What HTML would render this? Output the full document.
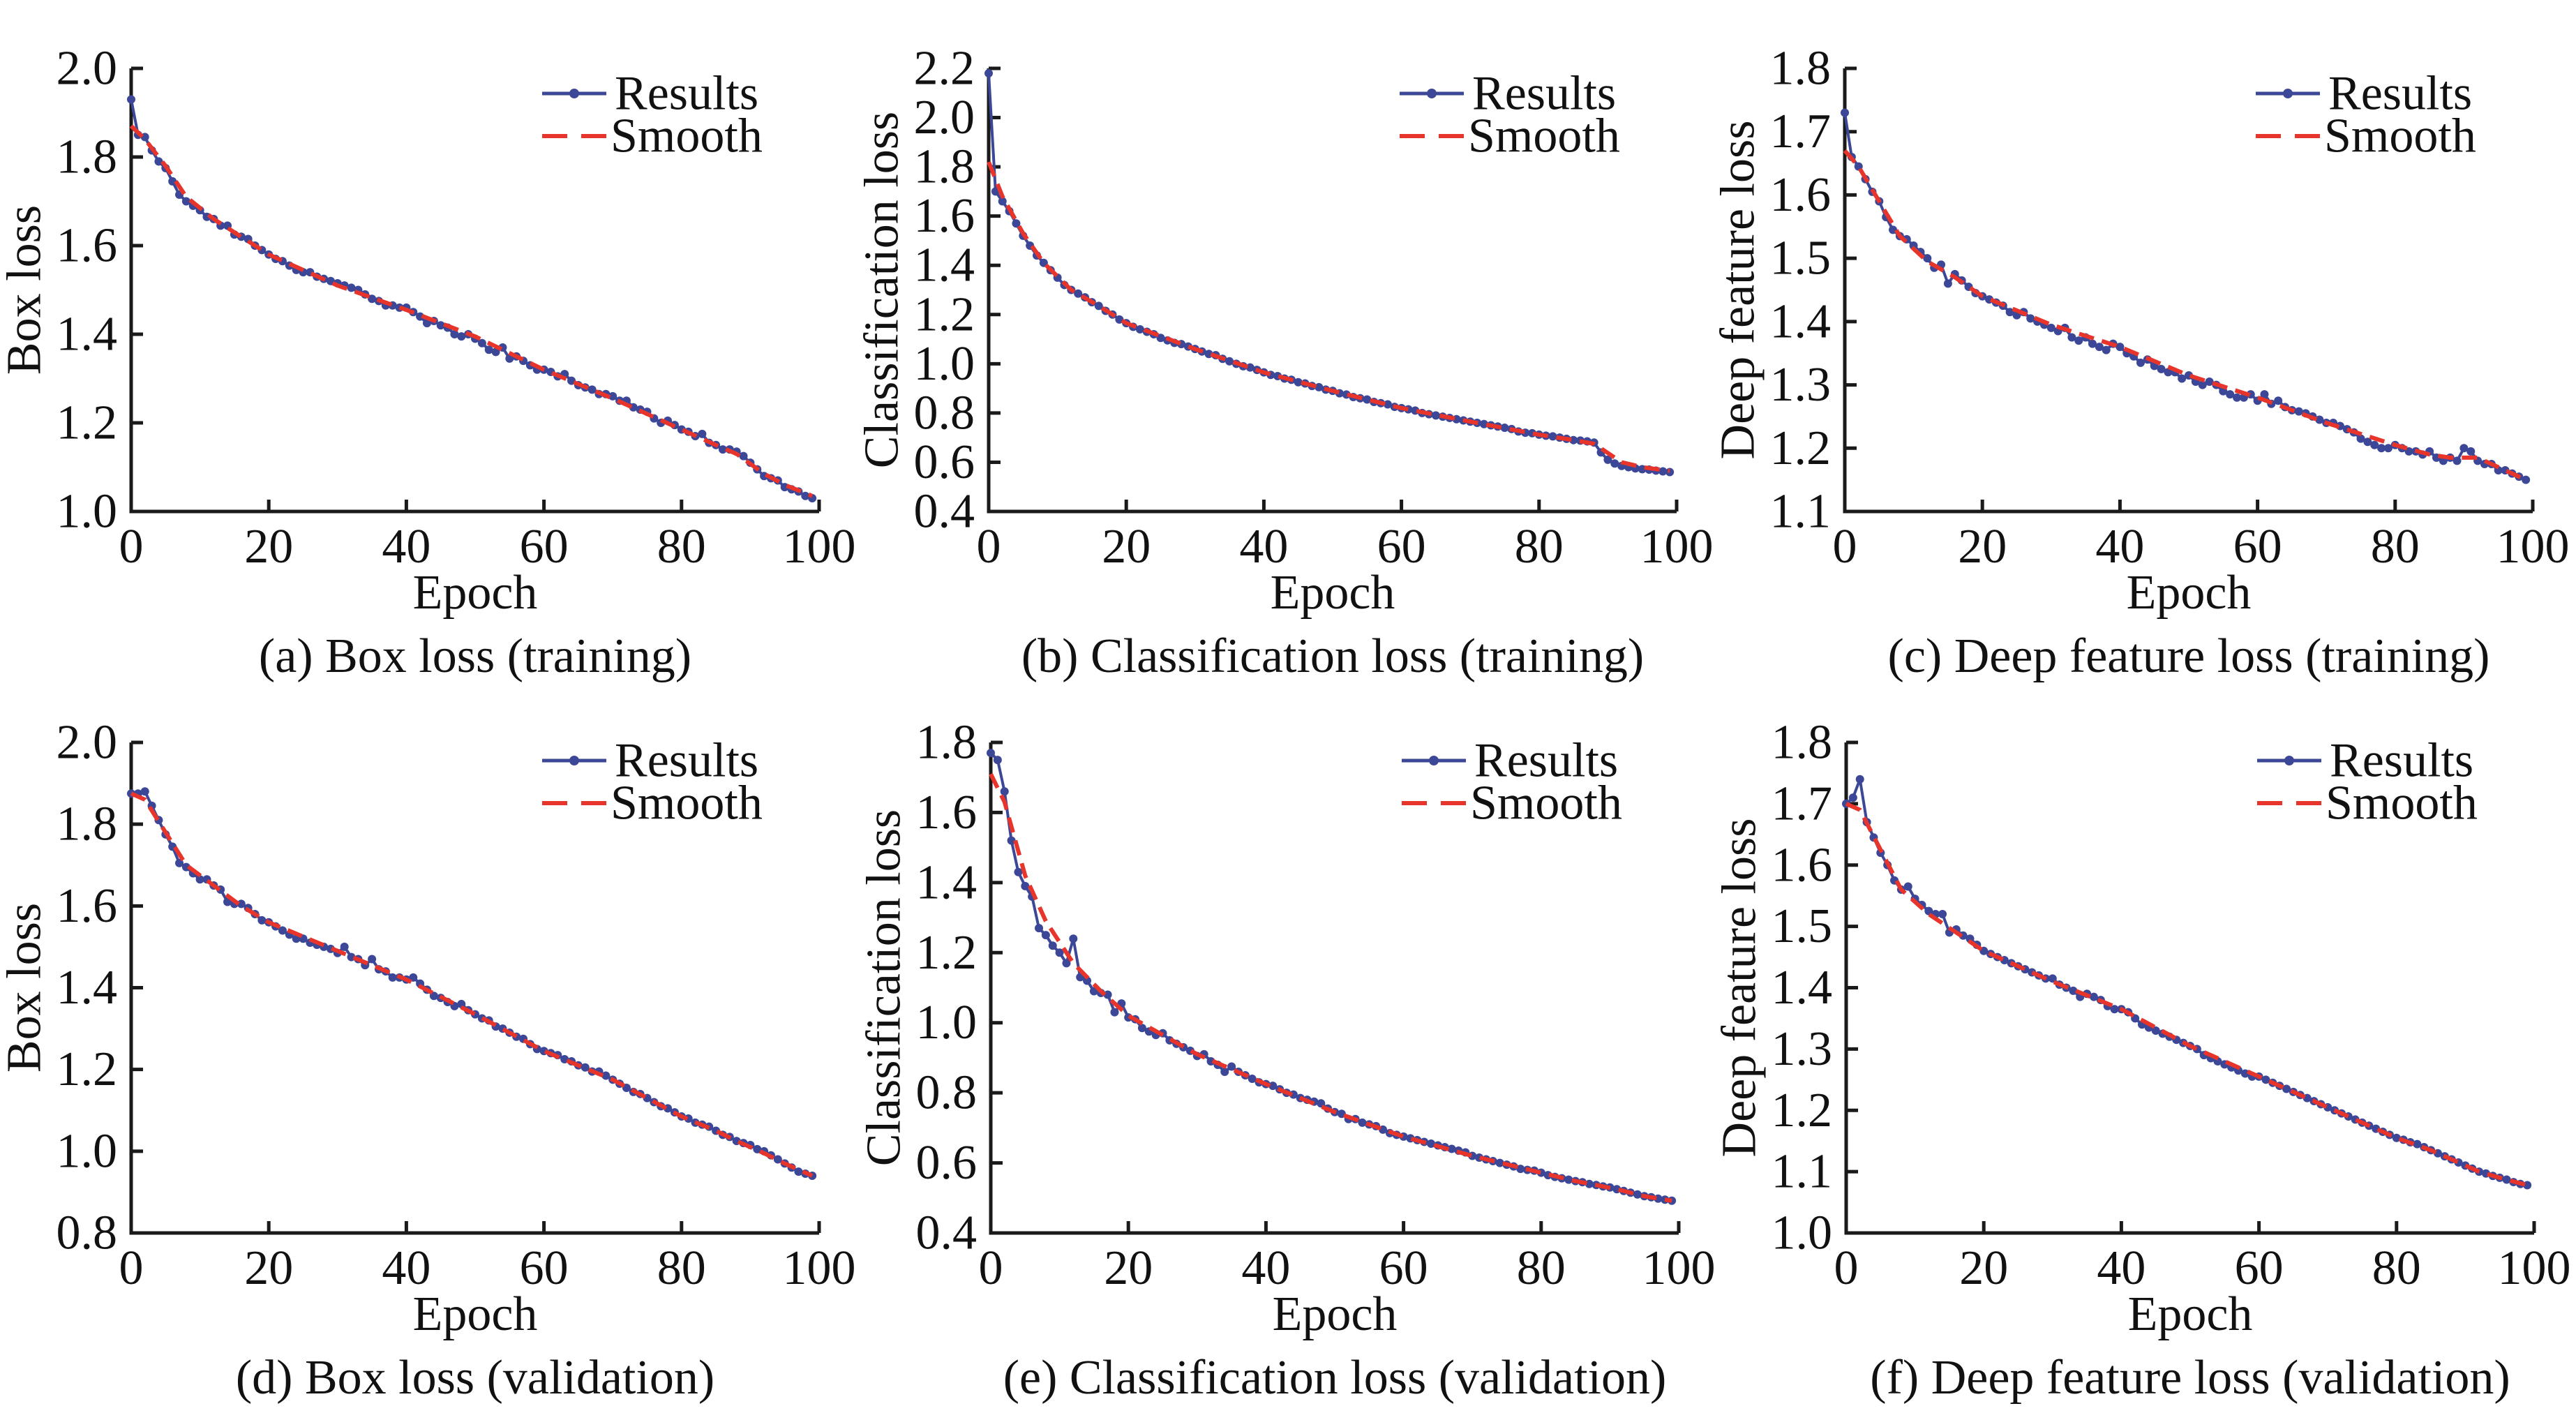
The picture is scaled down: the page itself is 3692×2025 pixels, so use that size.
<!DOCTYPE html>
<html><head><meta charset="utf-8"><style>
html,body{margin:0;padding:0;background:#fff;}
svg{display:block;font-family:"Liberation Serif",serif;}
</style></head><body>
<svg id="fig" width="3692" height="2025" viewBox="0 0 3692 2025" xmlns="http://www.w3.org/2000/svg"></svg>
<script>
const epochs = Array.from({length:100},(_,i)=>i);
const xTicks = [0,20,40,60,80,100];
const smoothEpochs = [0,2,5,8,12,16,20,30,40,50,60,70,80,85,88,92,95,99];

const boxTrain = [1.93,1.85,1.845,1.815,1.79,1.775,1.745,1.715,1.70,1.69,1.68,1.665,1.66,1.645,1.645,1.625,1.62,1.615,1.60,1.59,1.58,1.57,1.565,1.555,1.545,1.54,1.54,1.53,1.525,1.52,1.515,1.51,1.505,1.50,1.49,1.48,1.475,1.465,1.465,1.46,1.46,1.45,1.44,1.425,1.43,1.42,1.415,1.40,1.395,1.40,1.39,1.38,1.365,1.36,1.37,1.345,1.35,1.34,1.33,1.32,1.32,1.315,1.305,1.31,1.295,1.285,1.28,1.275,1.265,1.265,1.26,1.25,1.25,1.235,1.23,1.225,1.21,1.20,1.205,1.195,1.185,1.18,1.17,1.175,1.155,1.15,1.14,1.14,1.135,1.125,1.11,1.095,1.08,1.075,1.07,1.055,1.05,1.045,1.035,1.03];
const boxTrainSmooth = [1.87,1.84,1.78,1.71,1.66,1.62,1.58,1.51,1.455,1.395,1.32,1.255,1.185,1.15,1.13,1.085,1.06,1.035];

const clsTrain = [2.18,1.70,1.66,1.62,1.57,1.52,1.48,1.44,1.41,1.38,1.35,1.32,1.30,1.285,1.27,1.25,1.235,1.215,1.20,1.18,1.165,1.15,1.14,1.13,1.12,1.105,1.095,1.085,1.08,1.07,1.06,1.05,1.04,1.035,1.02,1.01,1.0,0.99,0.985,0.975,0.965,0.955,0.95,0.94,0.935,0.925,0.92,0.91,0.905,0.895,0.89,0.88,0.875,0.865,0.86,0.855,0.845,0.84,0.835,0.825,0.82,0.815,0.81,0.8,0.795,0.79,0.785,0.78,0.775,0.77,0.765,0.76,0.755,0.75,0.745,0.74,0.735,0.725,0.72,0.718,0.712,0.708,0.705,0.7,0.695,0.69,0.688,0.685,0.68,0.64,0.61,0.595,0.585,0.58,0.575,0.572,0.57,0.566,0.563,0.56];
const clsTrainSmooth = [1.82,1.68,1.53,1.41,1.30,1.235,1.165,1.06,0.965,0.89,0.82,0.765,0.712,0.69,0.675,0.60,0.58,0.565];

const dfTrain = [1.73,1.66,1.645,1.625,1.605,1.59,1.565,1.545,1.535,1.53,1.52,1.51,1.5,1.485,1.49,1.46,1.475,1.465,1.455,1.445,1.44,1.435,1.43,1.425,1.415,1.41,1.415,1.405,1.4,1.395,1.39,1.385,1.39,1.375,1.37,1.375,1.365,1.36,1.355,1.365,1.36,1.35,1.345,1.335,1.34,1.33,1.325,1.32,1.32,1.31,1.315,1.305,1.3,1.305,1.3,1.29,1.285,1.28,1.28,1.285,1.275,1.285,1.27,1.275,1.265,1.26,1.258,1.255,1.25,1.245,1.24,1.24,1.235,1.23,1.225,1.215,1.21,1.205,1.2,1.2,1.205,1.2,1.195,1.195,1.19,1.195,1.185,1.18,1.185,1.18,1.2,1.195,1.18,1.175,1.175,1.165,1.165,1.16,1.155,1.15];
const dfTrainSmooth = [1.67,1.645,1.59,1.535,1.495,1.47,1.44,1.395,1.36,1.315,1.28,1.24,1.205,1.19,1.185,1.185,1.17,1.15];

const boxVal = [1.875,1.875,1.88,1.845,1.81,1.775,1.745,1.705,1.695,1.68,1.665,1.665,1.65,1.64,1.61,1.605,1.605,1.595,1.58,1.565,1.56,1.55,1.54,1.53,1.52,1.52,1.51,1.505,1.5,1.495,1.485,1.5,1.475,1.47,1.455,1.47,1.445,1.44,1.425,1.425,1.42,1.425,1.41,1.395,1.38,1.375,1.365,1.355,1.36,1.345,1.335,1.325,1.32,1.305,1.3,1.29,1.28,1.275,1.262,1.25,1.245,1.24,1.235,1.225,1.22,1.21,1.205,1.195,1.195,1.185,1.175,1.165,1.155,1.145,1.14,1.13,1.12,1.11,1.105,1.095,1.085,1.08,1.07,1.065,1.06,1.05,1.04,1.035,1.025,1.02,1.015,1.005,1.0,0.99,0.98,0.97,0.96,0.95,0.945,0.94];
const boxValSmooth = [1.875,1.86,1.78,1.70,1.65,1.60,1.56,1.49,1.42,1.335,1.245,1.175,1.085,1.05,1.025,0.995,0.97,0.94];

const clsVal = [1.77,1.75,1.66,1.52,1.43,1.39,1.36,1.27,1.25,1.22,1.20,1.17,1.24,1.13,1.12,1.09,1.085,1.08,1.03,1.055,1.015,1.01,0.985,0.975,0.965,0.97,0.95,0.94,0.93,0.92,0.905,0.91,0.89,0.88,0.86,0.875,0.86,0.85,0.84,0.83,0.825,0.82,0.81,0.8,0.795,0.785,0.78,0.775,0.77,0.755,0.745,0.74,0.725,0.725,0.715,0.71,0.705,0.695,0.685,0.68,0.675,0.67,0.665,0.66,0.655,0.65,0.645,0.64,0.635,0.63,0.62,0.615,0.61,0.605,0.6,0.595,0.59,0.583,0.58,0.578,0.572,0.565,0.56,0.556,0.552,0.548,0.545,0.54,0.537,0.533,0.53,0.525,0.52,0.515,0.51,0.505,0.502,0.498,0.495,0.492];
const clsValSmooth = [1.71,1.63,1.42,1.29,1.17,1.09,1.02,0.91,0.825,0.745,0.675,0.62,0.572,0.548,0.537,0.52,0.505,0.492];

const dfVal = [1.70,1.71,1.74,1.67,1.645,1.62,1.60,1.575,1.56,1.565,1.545,1.535,1.525,1.52,1.52,1.49,1.495,1.485,1.48,1.47,1.46,1.455,1.45,1.445,1.44,1.435,1.43,1.425,1.42,1.415,1.415,1.405,1.4,1.395,1.385,1.39,1.385,1.38,1.37,1.365,1.365,1.36,1.35,1.34,1.335,1.33,1.325,1.32,1.315,1.31,1.305,1.3,1.29,1.285,1.28,1.275,1.27,1.265,1.26,1.255,1.255,1.25,1.245,1.24,1.235,1.23,1.225,1.22,1.215,1.21,1.205,1.2,1.195,1.19,1.185,1.18,1.175,1.17,1.165,1.16,1.155,1.152,1.148,1.145,1.14,1.135,1.13,1.125,1.12,1.115,1.11,1.105,1.1,1.097,1.093,1.09,1.087,1.083,1.08,1.078];
const dfValSmooth = [1.70,1.69,1.625,1.56,1.52,1.49,1.46,1.41,1.365,1.305,1.255,1.205,1.155,1.135,1.12,1.1,1.09,1.078];

const yTicksA = ["1.0","1.2","1.4","1.6","1.8","2.0"];
const yTicksB = ["0.4","0.6","0.8","1.0","1.2","1.4","1.6","1.8","2.0","2.2"];
const yTicksC = ["1.1","1.2","1.3","1.4","1.5","1.6","1.7","1.8"];
const yTicksD = ["0.8","1.0","1.2","1.4","1.6","1.8","2.0"];
const yTicksE = ["0.4","0.6","0.8","1.0","1.2","1.4","1.6","1.8"];
const yTicksF = ["1.0","1.1","1.2","1.3","1.4","1.5","1.6","1.7","1.8"];

const panels = [
 {id:'a',x:188,top:98,bot:733,res:boxTrain,sm:boxTrainSmooth,yt:yTicksA,yl:'Box loss',cap:'(a) Box loss (training)',leg:36},
 {id:'b',x:1417,top:98,bot:733,res:clsTrain,sm:clsTrainSmooth,yt:yTicksB,yl:'Classification loss',cap:'(b) Classification loss (training)',leg:36},
 {id:'c',x:2644,top:98,bot:733,res:dfTrain,sm:dfTrainSmooth,yt:yTicksC,yl:'Deep feature loss',cap:'(c) Deep feature loss (training)',leg:36},
 {id:'d',x:188,top:1064,bot:1767,res:boxVal,sm:boxValSmooth,yt:yTicksD,yl:'Box loss',cap:'(d) Box loss (validation)',leg:26},
 {id:'e',x:1420,top:1064,bot:1767,res:clsVal,sm:clsValSmooth,yt:yTicksE,yl:'Classification loss',cap:'(e) Classification loss (validation)',leg:26},
 {id:'f',x:2646,top:1064,bot:1767,res:dfVal,sm:dfValSmooth,yt:yTicksF,yl:'Deep feature loss',cap:'(f) Deep feature loss (validation)',leg:26}
];
const W = 986, BLUE = '#3c4797', RED = '#e8352c', FS = 70;
const NS = 'http://www.w3.org/2000/svg';
const svg = document.getElementById('fig');
function mk(tag, attrs, parent){ const e=document.createElementNS(NS,tag); for(const k in attrs) e.setAttribute(k,attrs[k]); (parent||svg).appendChild(e); return e; }

panels.forEach(p=>{
  const g = mk('g',{});
  
  
  const ymin=parseFloat(p.yt[0]), ymax=parseFloat(p.yt[p.yt.length-1]);
  const xs = v => p.x + v/100*W;
  const ys = v => p.bot - (v-ymin)/(ymax-ymin)*(p.bot-p.top);
  const ax = mk('path',{d:`M${p.x},${p.top} V${p.bot} H${p.x+W}`,fill:'none',stroke:'#1a1a1a','stroke-width':5},g);
  
  
  p.yt.forEach(t=>{
    const y=ys(parseFloat(t));
    mk('line',{x1:p.x,x2:p.x+17,y1:y,y2:y,stroke:'#1a1a1a','stroke-width':5},g);
    const tx=mk('text',{x:p.x-20,y:y,'font-size':FS,'text-anchor':'end','dominant-baseline':'central',fill:'#111'},g);
    tx.textContent=t;
    
    
  });
  xTicks.forEach(t=>{
    const x=xs(t);
    mk('line',{x1:x,x2:x,y1:p.bot,y2:p.bot-17,stroke:'#1a1a1a','stroke-width':5},g);
    const tx=mk('text',{x:x,y:p.bot+73,'font-size':FS,'text-anchor':'middle',fill:'#111'},g);
    tx.textContent=t;
    
    
  });
  const xl=mk('text',{x:p.x+W/2,y:p.bot+139,'font-size':FS,'text-anchor':'middle',fill:'#111'},g);
  xl.textContent='Epoch';
  
  
  const cy=(p.top+p.bot)/2, cx=p.x-153;
  const yl=mk('text',{x:cx,y:cy,'font-size':FS,'text-anchor':'middle','dominant-baseline':'central',fill:'#111',transform:`rotate(-90 ${cx} ${cy})`},g);
  yl.textContent=p.yl;
  
  
  const cap=mk('text',{x:p.x+W/2,y:p.bot+230,'font-size':FS,'text-anchor':'middle',fill:'#111'},g);
  cap.textContent=p.cap;
  
  
  const rl=mk('polyline',{points:p.res.map((v,i)=>xs(epochs[i])+','+ys(v)).join(' '),fill:'none',stroke:BLUE,'stroke-width':4,'stroke-linejoin':'round'},g);
  
  
  p.res.forEach((v,i)=>{
    const c=mk('circle',{cx:xs(epochs[i]),cy:ys(v),r:6,fill:BLUE},g);
    
    
  });
  const sl=mk('polyline',{points:p.sm.map((v,i)=>xs(smoothEpochs[i])+','+ys(v)).join(' '),fill:'none',stroke:RED,'stroke-width':6,'stroke-dasharray':'22 12','stroke-linejoin':'round'},g);
  
  
  const lg=mk('g',{},g);
  
  
  const ly1=p.top+p.leg, ly2=ly1+61, lx=p.x+589;
  mk('line',{x1:lx,x2:lx+92,y1:ly1,y2:ly1,stroke:BLUE,'stroke-width':5},lg);
  mk('circle',{cx:lx+46,cy:ly1,r:7,fill:BLUE},lg);
  const t1=mk('text',{x:lx+104,y:ly1,'font-size':FS,'dominant-baseline':'central',fill:'#111'},lg);
  t1.textContent='Results';
  
  
  mk('line',{x1:lx,x2:lx+92,y1:ly2,y2:ly2,stroke:RED,'stroke-width':6,'stroke-dasharray':'36 20'},lg);
  const t2=mk('text',{x:lx+98,y:ly2,'font-size':FS,'dominant-baseline':'central',fill:'#111'},lg);
  t2.textContent='Smooth';
  
  
});
</script>
</body></html>
